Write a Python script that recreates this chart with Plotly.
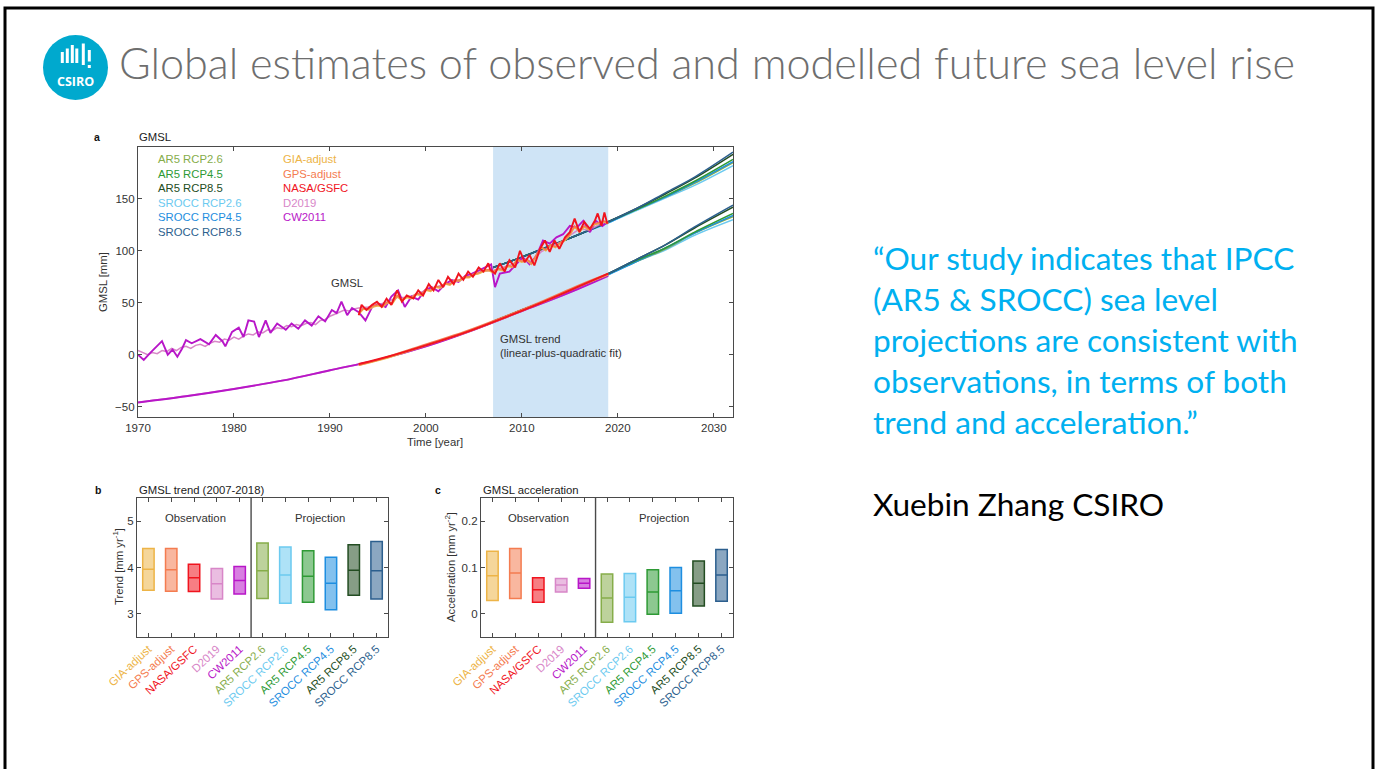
import plotly.graph_objects as go

W, H = 1376, 769


def px(x):
    return x / W


def py(y):
    return 1 - y / H


# ---------------- panel a: GMSL series ----------------
cw2011_years = [1970.0, 1970.6, 1971.3, 1971.8, 1972.5, 1973.1, 1973.6, 1974.1, 1974.6, 1975.0,
                1975.6, 1976.5, 1977.4, 1978.1, 1978.8, 1979.1, 1979.8, 1980.5, 1981.0, 1981.5,
                1982.1, 1982.6, 1983.3, 1983.8, 1984.5, 1985.4, 1986.0, 1986.7, 1987.4, 1988.1,
                1988.8, 1989.5, 1990.2, 1990.7, 1991.2, 1991.8, 1992.3, 1993.0, 1993.7, 1994.4,
                1995.1, 1995.8, 1996.4, 1997.1, 1997.8, 1998.5, 1999.2, 1999.9, 2000.6, 2001.3,
                2002.0, 2002.7, 2003.4, 2004.1, 2004.8, 2005.5, 2006.2, 2006.8, 2007.2, 2007.7,
                2008.7, 2009.4, 2010.1, 2010.8, 2011.5, 2012.2, 2012.9, 2013.6, 2014.3, 2015.0,
                2015.7, 2016.4, 2017.1, 2017.7, 2018.4, 2018.9]
cw2011_gmsl = [0, -5, 2, 7, 13, 0, 5, -2, 6, 14,
               11, 15, 10, 19, 13, 8, 22, 26, 17, 33,
               32, 17, 33, 21, 30, 24, 30, 25, 33, 28,
               37, 32, 43, 40, 51, 38, 45, 41, 33, 46,
               49, 46, 56, 62, 46, 56, 53, 62, 65, 61,
               68, 72, 70, 76, 78, 81, 84, 87, 65, 78,
               80, 87, 94, 87, 95, 110, 107, 113, 116, 124,
               122, 129, 118, 129, 124, 128]

d2019_years = [1970.0, 1970.5, 1971.0, 1971.5, 1972.0, 1972.5, 1973.0, 1973.5, 1974.0, 1974.5,
               1975.0, 1975.5, 1976.0, 1976.5, 1977.0, 1977.5, 1978.0, 1978.5, 1979.0, 1979.5,
               1980.0, 1980.5, 1981.0, 1981.5, 1982.0, 1982.5, 1983.0, 1983.5, 1984.0, 1984.5,
               1985.0, 1985.5, 1986.0, 1986.5, 1987.0, 1987.5, 1988.0, 1988.5, 1989.0, 1989.5,
               1990.0, 1990.5, 1991.0, 1991.5, 1992.0, 1992.5, 1993.0, 1994.0, 1995.0, 1996.0,
               1997.0, 1998.0, 1999.0, 2000.0, 2001.0, 2002.0, 2003.0, 2004.0, 2005.0, 2006.0,
               2007.0, 2008.0, 2009.0, 2010.0, 2011.0, 2012.0, 2013.0, 2014.0, 2015.0, 2016.0,
               2017.0, 2018.0, 2019.0]
d2019_gmsl = [4, 2, 0, 2, 1, 4, 3, 6, 4, 7,
              8, 6, 9, 10, 8, 11, 13, 12, 15, 14,
              17, 15, 18, 20, 19, 22, 21, 24, 23, 26,
              25, 28, 27, 29, 28, 30, 31, 29, 33, 34,
              37, 39, 41, 43, 42, 44, 45, 46, 48, 51,
              55, 55, 58, 62, 65, 68, 70, 74, 77, 80,
              81, 84, 87, 92, 90, 99, 104, 108, 115, 121,
              120, 125, 127]

nasa_years = [1993.0, 1993.3, 1993.8, 1994.4, 1994.9, 1995.4, 1995.9, 1996.4, 1997.0, 1997.5,
              1998.0, 1998.7, 1999.2, 1999.7, 2000.3, 2000.8, 2001.3, 2001.8, 2002.3, 2002.9,
              2003.4, 2003.9, 2004.4, 2004.9, 2005.5, 2006.0, 2006.5, 2006.7, 2007.2, 2007.7,
              2008.2, 2008.7, 2009.3, 2009.8, 2010.3, 2010.8, 2011.3, 2011.9, 2012.4, 2012.9,
              2013.4, 2013.9, 2014.5, 2015.0, 2015.5, 2016.0, 2016.5, 2017.1, 2017.6, 2017.9,
              2018.3, 2018.6, 2018.9]
nasa_gmsl = [38, 48, 43, 48, 51, 46, 54, 48, 62, 51,
             57, 54, 62, 57, 68, 62, 72, 65, 75, 68,
             78, 72, 80, 75, 84, 80, 88, 82, 78, 88,
             80, 91, 84, 100, 89, 96, 86, 102, 110, 99,
             110, 102, 113, 118, 131, 118, 128, 121, 129, 136,
             124, 137, 126]

gps_years = [1993.0, 1993.5, 1994.0, 1994.5, 1995.0, 1995.5, 1996.0, 1996.5, 1997.0, 1997.5,
             1998.0, 1998.5, 1999.0, 1999.5, 2000.0, 2000.5, 2001.0, 2001.5, 2002.0, 2002.5,
             2003.0, 2003.5, 2004.0, 2004.5, 2005.0, 2005.5, 2006.0, 2006.5, 2007.0, 2007.5,
             2008.0, 2008.5, 2009.0, 2009.5, 2010.0, 2010.5, 2011.0, 2011.5, 2012.0, 2012.5,
             2013.0, 2013.5, 2014.0, 2014.5, 2015.0, 2015.5, 2016.0, 2016.5, 2017.0, 2017.5,
             2018.0, 2018.5, 2019.0]
gps_gmsl = [40, 45, 44, 47, 48, 47, 51, 50, 57, 53,
            56, 55, 59, 58, 63, 62, 66, 65, 69, 68,
            72, 72, 75, 75, 78, 79, 81, 82, 80, 83,
            82, 86, 85, 92, 90, 92, 88, 96, 104, 101,
            106, 104, 108, 111, 116, 124, 119, 124, 121, 126,
            127, 129, 127]
gia_gmsl = [39, 44, 43, 46, 47, 46, 50, 49, 56, 52,
            55, 54, 58, 57, 62, 61, 65, 64, 68, 67,
            71, 71, 74, 74, 77, 78, 80, 81, 79, 82,
            81, 85, 84, 91, 89, 91, 87, 95, 103, 100,
            105, 103, 107, 110, 115, 123, 118, 123, 120, 125,
            126, 128, 126]

# linear-plus-quadratic fits
fit_long_years = [1970, 1975, 1980, 1985, 1990, 1995, 2000, 2005, 2010, 2015, 2019]
fit_cw2011 = [-46, -40, -33, -25, -15, -5, 8, 24, 42, 60, 76]
fit_d2019 = [-46, -40, -33, -25, -15, -5, 8, 24, 42, 60, 77]
fit_alt_years = [1993, 1996, 2000, 2004, 2008, 2012, 2016, 2019]
fit_nasa = [-9, -2, 9, 21, 35, 50, 66, 78]
fit_gps = [-10, -2, 10, 22, 36, 51, 67, 78]
fit_gia = [-10, -3, 9, 21, 35, 50, 66, 77]

# projections, observed GMSL baseline (upper) and trend baseline (lower)
proj_years = [2007, 2010, 2013, 2016, 2019, 2022, 2025, 2028, 2032]
upper_ar5_26 = [84, 94, 105, 116, 128, 140, 152, 165, 185]
upper_ar5_45 = [84, 94, 105, 116, 128, 140, 153, 167, 188]
upper_ar5_85 = [84, 94, 105, 116, 128, 141, 155, 170, 193]
upper_srocc_26 = [84, 94, 105, 116, 127, 139, 151, 163, 182]
upper_srocc_45 = [84, 94, 105, 116, 127, 140, 152, 166, 186]
upper_srocc_85 = [84, 94, 105, 116, 128, 141, 156, 171, 195]
lower_ar5_26 = [32, 43, 54, 65, 78, 90, 102, 117, 133]
lower_ar5_45 = [32, 43, 54, 65, 78, 91, 103, 118, 136]
lower_ar5_85 = [32, 43, 54, 65, 78, 92, 106, 122, 142]
lower_srocc_26 = [32, 43, 54, 65, 77, 90, 101, 115, 130]
lower_srocc_45 = [32, 43, 54, 65, 77, 90, 103, 117, 134]
lower_srocc_85 = [32, 43, 54, 65, 78, 92, 106, 123, 144]

# ---------------- panels b and c ----------------
categories = ["GIA-adjust", "GPS-adjust", "NASA/GSFC", "D2019", "CW2011",
              "AR5 RCP2.6", "SROCC RCP2.6", "AR5 RCP4.5", "SROCC RCP4.5",
              "AR5 RCP8.5", "SROCC RCP8.5"]
trend_low = [3.51, 3.49, 3.48, 3.32, 3.43, 3.33, 3.23, 3.25, 3.09, 3.40, 3.32]
trend_mid = [3.96, 3.95, 3.78, 3.65, 3.72, 3.93, 3.84, 3.81, 3.66, 3.94, 3.93]
trend_high = [4.41, 4.41, 4.07, 3.98, 4.02, 4.53, 4.44, 4.36, 4.22, 4.49, 4.56]
accel_low = [0.029, 0.033, 0.025, 0.047, 0.055, -0.018, -0.017, -0.001, 0.001, 0.017, 0.027]
accel_mid = [0.082, 0.088, 0.052, 0.062, 0.066, 0.034, 0.036, 0.047, 0.050, 0.066, 0.084]
accel_high = [0.135, 0.141, 0.078, 0.076, 0.076, 0.086, 0.087, 0.095, 0.100, 0.114, 0.139]

colors = {
    "GIA-adjust": "#EDB447",
    "GPS-adjust": "#F47C50",
    "NASA/GSFC": "#F0141E",
    "D2019": "#D886C8",
    "CW2011": "#B816C8",
    "AR5 RCP2.6": "#86AD4A",
    "SROCC RCP2.6": "#6CCAF0",
    "AR5 RCP4.5": "#2E9A35",
    "SROCC RCP4.5": "#1E8EE0",
    "AR5 RCP8.5": "#234D22",
    "SROCC RCP8.5": "#2C5F8E",
}


def rgba(hex_color, a):
    h = hex_color.lstrip("#")
    r, g, b = int(h[0:2], 16), int(h[2:4], 16), int(h[4:6], 16)
    return f"rgba({r},{g},{b},{a})"


FONT = "Liberation Sans"
AX = "#4a4a4a"
TXT = "#333333"

fig = go.Figure()


def line(xs, ys, name, width=1.6, shape="linear"):
    fig.add_trace(go.Scatter(x=xs, y=ys, mode="lines", name=name, showlegend=False,
                             line=dict(color=colors[name], width=width, shape=shape),
                             xaxis="x", yaxis="y", hoverinfo="skip"))


# projections underneath everything
proj_sets = [
    ("SROCC RCP2.6", upper_srocc_26, lower_srocc_26),
    ("AR5 RCP2.6", upper_ar5_26, lower_ar5_26),
    ("SROCC RCP4.5", upper_srocc_45, lower_srocc_45),
    ("AR5 RCP4.5", upper_ar5_45, lower_ar5_45),
    ("AR5 RCP8.5", upper_ar5_85, lower_ar5_85),
    ("SROCC RCP8.5", upper_srocc_85, lower_srocc_85),
]
for name, up, lo in proj_sets:
    line(proj_years, up, name, 1.5, "spline")
    line(proj_years, lo, name, 1.5, "spline")

# fitted trends
line(fit_long_years, fit_d2019, "D2019", 1.8, "spline")
line(fit_long_years, fit_cw2011, "CW2011", 1.9, "spline")
line(fit_alt_years, fit_gia, "GIA-adjust", 1.8, "spline")
line(fit_alt_years, fit_gps, "GPS-adjust", 1.8, "spline")
line(fit_alt_years, fit_nasa, "NASA/GSFC", 1.9, "spline")

# observed series
line(d2019_years, d2019_gmsl, "D2019", 1.5)
line(cw2011_years, cw2011_gmsl, "CW2011", 1.9)
line(gps_years, gia_gmsl, "GIA-adjust", 1.5)
line(gps_years, gps_gmsl, "GPS-adjust", 1.5)
line(nasa_years, nasa_gmsl, "NASA/GSFC", 1.9)


# box panels
def boxes(low, mid, high, xa, ya):
    for i, name in enumerate(categories):
        c = colors[name]
        fig.add_trace(go.Box(
            x=[i + 1], q1=[low[i]], median=[mid[i]], q3=[high[i]],
            lowerfence=[low[i]], upperfence=[high[i]],
            width=0.5, whiskerwidth=0, boxpoints=False,
            fillcolor=rgba(c, 0.55), line=dict(color=c, width=1.5),
            xaxis=xa, yaxis=ya, showlegend=False, hoverinfo="skip"))


boxes(trend_low, trend_mid, trend_high, "x2", "y2")
boxes(accel_low, accel_mid, accel_high, "x3", "y3")

tick_font = dict(family=FONT, size=11.5, color=TXT)
axis_common = dict(showline=True, linecolor=AX, linewidth=1.2, mirror="ticks",
                   ticks="inside", ticklen=4, tickcolor=AX, showgrid=False,
                   zeroline=False, automargin=False, tickfont=tick_font)
cat_font = dict(family=FONT, size=11.4)

colored_ticks = [f'<span style="color:{colors[n]}">{n}</span>' for n in categories]

fig.update_layout(
    template="none",
    width=W, height=H, margin=dict(l=0, r=0, t=0, b=0, pad=0, autoexpand=False),
    paper_bgcolor="white", plot_bgcolor="white",
    font=dict(family=FONT, color=TXT),
    xaxis=dict(domain=[px(138), px(733)], range=[1970, 2032], tickvals=[1970, 1980, 1990, 2000, 2010, 2020, 2030],
               anchor="y", **axis_common),
    yaxis=dict(domain=[py(417), py(147)], range=[-60, 200], tickvals=[-50, 0, 50, 100, 150],
               anchor="x", **axis_common),
    xaxis2=dict(domain=[px(137), px(388)], range=[0.5, 11.5], tickvals=list(range(1, 12)),
                ticktext=colored_ticks, tickangle=-43, anchor="y2",
                **{**axis_common, "tickfont": cat_font}),
    yaxis2=dict(domain=[py(637), py(498)], range=[2.5, 5.5], tickvals=[3, 4, 5], anchor="x2", **axis_common),
    xaxis3=dict(domain=[px(481), px(733)], range=[0.5, 11.5], tickvals=list(range(1, 12)),
                ticktext=colored_ticks, tickangle=-43, anchor="y3",
                **{**axis_common, "tickfont": cat_font}),
    yaxis3=dict(domain=[py(637), py(498)], range=[-0.05, 0.25], tickvals=[0, 0.1, 0.2], anchor="x3", **axis_common),
    boxmode="overlay",
)

shapes = [
    # slide frame
    dict(type="rect", xref="paper", yref="paper", x0=px(5), x1=px(1373), y0=-0.05, y1=py(8),
         line=dict(color="black", width=3), fillcolor="rgba(0,0,0,0)"),
    # 2007-2018 window
    dict(type="rect", xref="x", yref="y domain", x0=2007, x1=2019, y0=0, y1=1,
         fillcolor="#cfe4f6", line=dict(width=0), layer="below"),
    # observation / projection dividers
    dict(type="line", xref="x2", yref="y2 domain", x0=5.5, x1=5.5, y0=0, y1=1,
         line=dict(color=AX, width=1.4)),
    dict(type="line", xref="x3", yref="y3 domain", x0=5.5, x1=5.5, y0=0, y1=1,
         line=dict(color=AX, width=1.4)),
    # logo disc
    dict(type="circle", xref="paper", yref="paper", x0=px(43), x1=px(108), y0=py(100), y1=py(35),
         fillcolor="#00A9CE", line=dict(width=0)),
]
# logo bars
for bx, top, bot in [(62.3, 52, 63), (67.3, 48.5, 63), (72.3, 45, 63), (76.8, 48.5, 63), (83.3, 43.5, 65), (89.3, 50, 61.5)]:
    shapes.append(dict(type="line", xref="paper", yref="paper", x0=px(bx), x1=px(bx), y0=py(bot), y1=py(top),
                       line=dict(color="white", width=3)))
shapes.append(dict(type="line", xref="paper", yref="paper", x0=px(89.3), x1=px(89.3), y0=py(68), y1=py(65),
                   line=dict(color="white", width=3)))
fig.update_layout(shapes=shapes)

ann = []


def text(x, y, s, size=11, color=TXT, xanchor="left", bold=False, family=FONT, angle=0, weight=None):
    f = dict(family=family, size=size, color=color)
    if weight is not None:
        f["weight"] = weight
    ann.append(dict(xref="paper", yref="paper", x=px(x), y=py(y), text=f"<b>{s}</b>" if bold else s,
                    showarrow=False, xanchor=xanchor, yanchor="middle", font=f, textangle=angle))


# slide title and logo text
text(117, 62, "Global estimates of observed and modelled future sea level rise", size=43.2,
     color="#6e6e6e", family="Lato", weight=300)
text(75.5, 82, "CSIRO", size=12.5, color="white", xanchor="center", bold=True, family="Open Sans")

# panel a labels
PS = 11.3
text(92, 137, "a", size=10.5, bold=True, color="#111")
text(137, 137, "GMSL", size=PS, color="#222")
text(103, 282, "GMSL [mm]", size=PS, xanchor="center", angle=-90)
text(435, 442, "Time [year]", size=PS, xanchor="center")
text(347, 283, "GMSL", size=PS, xanchor="center")
text(498, 339, "GMSL trend", size=PS)
text(498, 353, "(linear-plus-quadratic fit)", size=PS)

legend_left = ["AR5 RCP2.6", "AR5 RCP4.5", "AR5 RCP8.5", "SROCC RCP2.6", "SROCC RCP4.5", "SROCC RCP8.5"]
legend_right = ["GIA-adjust", "GPS-adjust", "NASA/GSFC", "D2019", "CW2011"]
for k, n in enumerate(legend_left):
    text(156, 159 + 14.6 * k, n, size=PS, color=colors[n])
for k, n in enumerate(legend_right):
    text(281, 159 + 14.6 * k, n, size=PS, color=colors[n])

# panel b/c labels
text(93, 490, "b", size=10.5, bold=True, color="#111")
text(137, 490, "GMSL trend (2007-2018)", size=PS, color="#222")
text(118, 567, "Trend [mm yr<sup>-1</sup>]", size=PS, xanchor="center", angle=-90)
text(195, 518, "Observation", size=PS, xanchor="center")
text(320, 518, "Projection", size=PS, xanchor="center")

text(433, 490, "c", size=10.5, bold=True, color="#111")
text(481, 490, "GMSL acceleration", size=PS, color="#222")
text(450, 567, "Acceleration [mm yr<sup>-2</sup>]", size=PS, xanchor="center", angle=-90)
text(538, 518, "Observation", size=PS, xanchor="center")
text(664, 518, "Projection", size=PS, xanchor="center")

# quote
quote = ["\u201cOur study indicates that IPCC", "(AR5 & SROCC) sea level",
         "projections are consistent with", "observations, in terms of both",
         "trend and acceleration.\u201d"]
for k, s in enumerate(quote):
    text(871, 258 + 41 * k, s, size=31.6, color="#00B0F0", family="Lato")
text(871, 504, "Xuebin Zhang CSIRO", size=31.6, color="#000000", family="Lato")

fig.update_layout(annotations=ann)

fig.write_html("out.html")
